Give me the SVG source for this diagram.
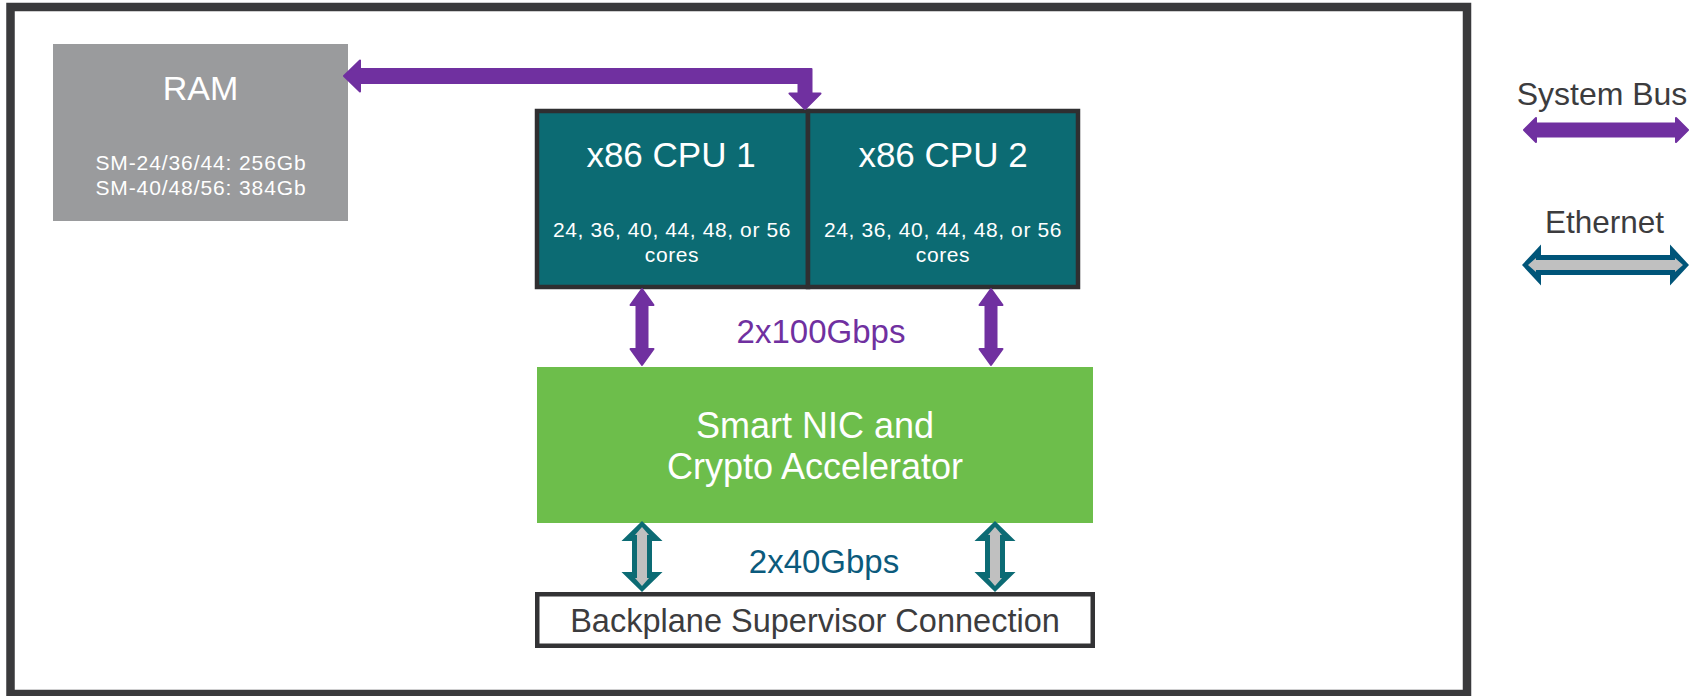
<svg xmlns="http://www.w3.org/2000/svg" width="1704" height="696" viewBox="0 0 1704 696">
<style>
text{font-family:"Liberation Sans",Arial,sans-serif;text-anchor:middle}
.w{fill:#ffffff}
.dk{fill:#3c3c3e}
.bus{fill:#7030a0;stroke:#7030a0;stroke-width:2;stroke-linejoin:round}
.eth{fill:#0c6b74}
.ethL{fill:#005579}
.ethIn{fill:#c0c0c0}
.cpu{fill:#0c6b73;stroke:#2f2f31;stroke-width:4.5}
</style>
<rect id="frame" x="10.5" y="7" width="1456.5" height="687" fill="#ffffff" stroke="#3a3a3c" stroke-width="8.5"/>

<g id="ram">
<rect x="53" y="44" width="295" height="177" fill="#9a9b9d"/>
<text class="w" x="200.5" y="100" font-size="34">RAM</text>
<text class="w" x="201" y="170" font-size="21" letter-spacing="0.9">SM-24/36/44: 256Gb</text>
<text class="w" x="201" y="195" font-size="21" letter-spacing="0.9">SM-40/48/56: 384Gb</text>
</g>

<g id="cpu1">
<rect class="cpu" x="537" y="111" width="271" height="176"/>
<text class="w" x="671" y="167" font-size="35">x86 CPU 1</text>
<text class="w" x="672" y="237" font-size="21" letter-spacing="0.6">24, 36, 40, 44, 48, or 56</text>
<text class="w" x="672" y="262" font-size="21" letter-spacing="0.6">cores</text>
</g>

<g id="cpu2">
<rect class="cpu" x="808" y="111" width="270" height="176"/>
<text class="w" x="943" y="167" font-size="35">x86 CPU 2</text>
<text class="w" x="943" y="237" font-size="21" letter-spacing="0.6">24, 36, 40, 44, 48, or 56</text>
<text class="w" x="943" y="262" font-size="21" letter-spacing="0.6">cores</text>
</g>

<g id="nic">
<rect x="537" y="367" width="556" height="156" fill="#6dbe4b"/>
<text class="w" x="815" y="438" font-size="36">Smart NIC and</text>
<text class="w" x="815" y="479" font-size="36">Crypto Accelerator</text>
</g>

<g id="backplane">
<rect x="537.25" y="594.25" width="555.5" height="51.5" fill="#ffffff" stroke="#333335" stroke-width="4.5"/>
<text class="dk" x="815" y="632" font-size="32.5">Backplane Supervisor Connection</text>
</g>

<g id="connectors">
<polygon class="bus" points="344,76 360,60.5 360,69 811.5,69 811.5,93.5 820.5,93.5 805,109 789.5,93.5 798.5,93.5 798.5,83 360,83 360,91.5"/>
<polygon class="bus" points="642,289 653.5,305 647.5,305 647.5,349 653.5,349 642,365 630.5,349 636.5,349 636.5,305 630.5,305"/>
<polygon class="bus" points="991,289 1002.5,305 996.5,305 996.5,349 1002.5,349 991,365 979.5,349 985.5,349 985.5,305 979.5,305"/>
<g transform="translate(642,0)">
<polygon class="eth" points="0,521 20.5,541 10,541 10,572 20.5,572 0,592 -20.5,572 -10,572 -10,541 -20.5,541"/>
<polygon class="ethIn" points="0,527 7,535 5,535 5,578 7,578 0,586 -7,578 -5,578 -5,535 -7,535"/>
</g>
<g transform="translate(995,0)">
<polygon class="eth" points="0,521 20.5,541 10,541 10,572 20.5,572 0,592 -20.5,572 -10,572 -10,541 -20.5,541"/>
<polygon class="ethIn" points="0,527 7,535 5,535 5,578 7,578 0,586 -7,578 -5,578 -5,535 -7,535"/>
</g>
</g>

<g id="labels">
<text x="821" y="343" font-size="33" fill="#7030a0">2x100Gbps</text>
<text x="824" y="573" font-size="33" fill="#0b5a7c">2x40Gbps</text>
</g>

<g id="legend">
<text class="dk" x="1602" y="105" font-size="32">System Bus</text>
<polygon class="bus" points="1524,130 1536,118 1536,123.5 1676,123.5 1676,118 1688,130 1676,142 1676,136.5 1536,136.5 1536,142"/>
<text class="dk" x="1604.5" y="233" font-size="31.5">Ethernet</text>
<polygon class="ethL" points="1522,265 1541,244.5 1541,255 1670,255 1670,244.5 1689,265 1670,285.5 1670,275 1541,275 1541,285.5"/>
<polygon class="ethIn" points="1528,265 1536,258 1536,260 1675,260 1675,258 1683,265 1675,272 1675,270 1536,270 1536,272"/>
</g>
</svg>
